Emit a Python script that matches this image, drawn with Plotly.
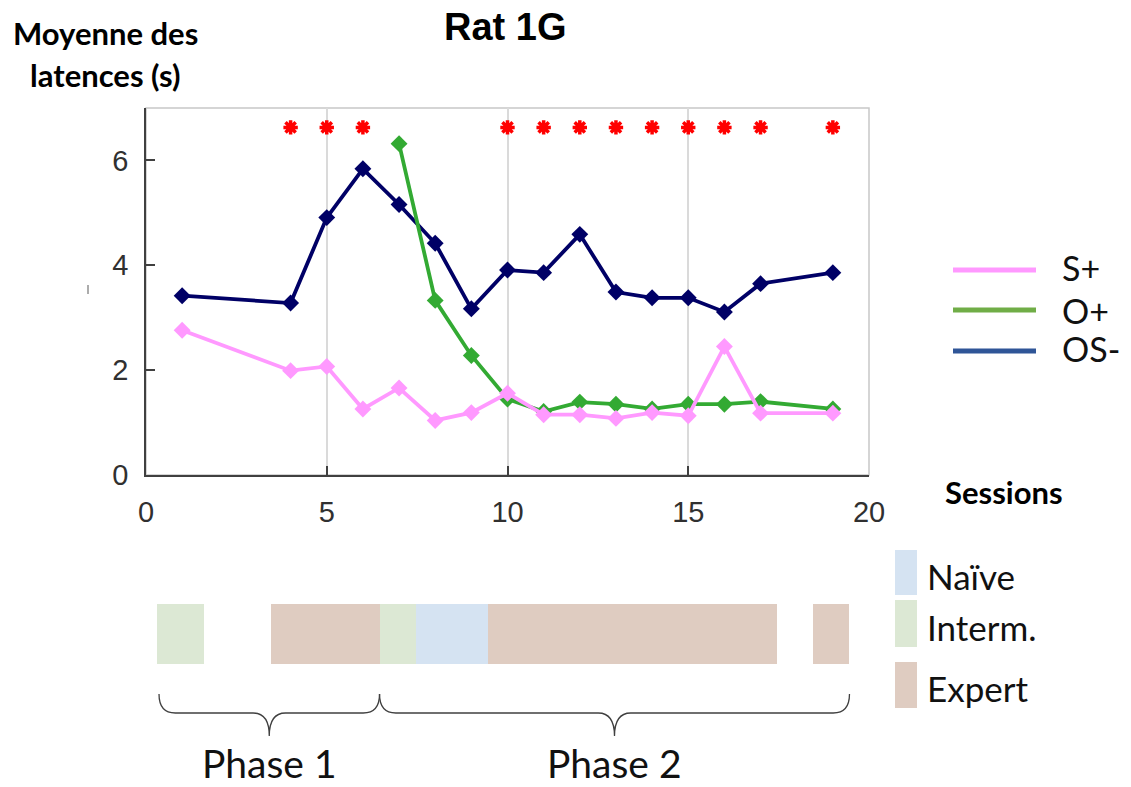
import plotly.graph_objects as go

# ---------------- data ----------------
sessions = [1, 4, 5, 6, 7, 8, 9, 10, 11, 12, 13, 14, 15, 16, 17, 19]
s_plus = [2.76, 1.99, 2.07, 1.26, 1.66, 1.04, 1.19, 1.56, 1.15, 1.15, 1.08, 1.19, 1.13, 2.45, 1.18, 1.18]
o_plus = [None, None, None, None, 6.32, 3.33, 2.28, 1.45, 1.21, 1.39, 1.35, 1.26, 1.35, 1.35, 1.40, 1.26]
os_minus = [3.42, 3.28, 4.91, 5.84, 5.16, 4.42, 3.17, 3.91, 3.86, 4.59, 3.49, 3.38, 3.38, 3.11, 3.65, 3.86]

star_sessions = [4, 5, 6, 10, 11, 12, 13, 14, 15, 16, 17, 19]
star_level = [6.63] * len(star_sessions)

stage_sessions = [1, 4, 5, 6, 7, 8, 9, 10, 11, 12, 13, 14, 15, 16, 17, 19]
stage_labels = ["Interm.", "Expert", "Expert", "Expert", "Interm.", "Naïve", "Naïve",
                "Expert", "Expert", "Expert", "Expert", "Expert", "Expert", "Expert", "Expert", "Expert"]
stage_width = [1.3] + [1] * 15

phases = ["Phase 1", "Phase 2"]
phase_start = [0.4, 6.5]
phase_end = [6.5, 19.5]

x_ticks = [0, 5, 10, 15, 20]
y_ticks = [0, 2, 4, 6]

stage_order = ["Naïve", "Interm.", "Expert"]
stage_colors = {"Naïve": "#D5E3F2", "Interm.": "#DCE8D4", "Expert": "#DFCCC1"}

legend_series = ["S+", "O+", "OS-"]
legend_colors = ["#FF99FF", "#70AD47", "#2F5597"]

# ---------------- geometry helpers ----------------
W, H = 1131, 787
def py(p):  # window pixel y -> paper
    return 1 - p / H
def px(p):
    return p / W

fig = go.Figure()

fig.add_trace(go.Scatter(x=sessions, y=os_minus, mode="lines+markers", name="OS-",
                         line=dict(color="#000066", width=3.8),
                         marker=dict(symbol="diamond", size=13, color="#000066")))
fig.add_trace(go.Scatter(x=sessions, y=o_plus, mode="lines+markers", name="O+",
                         line=dict(color="#33AA33", width=3.8),
                         marker=dict(symbol="diamond", size=13, color="#33AA33")))
fig.add_trace(go.Scatter(x=sessions, y=s_plus, mode="lines+markers", name="S+",
                         line=dict(color="#FF99FF", width=3.8),
                         marker=dict(symbol="diamond", size=13, color="#FF99FF")))
fig.add_trace(go.Scatter(x=star_sessions, y=star_level, mode="markers", name="*",
                         marker=dict(symbol="asterisk-open", size=12, color="#FF0000",
                                     line=dict(color="#FF0000", width=3.5))))

# stage bars
fig.add_trace(go.Bar(x=stage_sessions, y=[1] * len(stage_sessions), width=stage_width,
                     marker=dict(color=[stage_colors[s] for s in stage_labels], line=dict(width=0)),
                     xaxis="x2", yaxis="y2", showlegend=False, hoverinfo="skip"))

tickfont = dict(family="Liberation Sans, Arial", size=29, color="#303030")
fig.update_layout(
    width=W, height=H, margin=dict(l=0, r=0, t=0, b=0, autoexpand=False),
    paper_bgcolor="white", plot_bgcolor="white", showlegend=False,
    xaxis=dict(domain=[px(146), px(869)], range=[0, 20], tickvals=x_ticks,
               ticks="inside", ticklen=9, tickcolor="#404040", tickwidth=1.5,
               showline=True, linecolor="#404040", linewidth=1.5,
               showgrid=True, gridcolor="#DADADA", gridwidth=1.5,
               zeroline=False, tickfont=tickfont, anchor="y", automargin=False,
               ticklabelstandoff=10),
    yaxis=dict(domain=[py(475), py(108)], range=[0, 7], tickvals=y_ticks,
               ticks="inside", ticklen=9, tickcolor="#404040", tickwidth=1.5,
               showline=True, linecolor="#404040", linewidth=1.5,
               showgrid=False, zeroline=False, tickfont=tickfont, anchor="x",
               ticklabelstandoff=10, automargin=False),
    xaxis2=dict(domain=[px(146), px(869)], range=[0.04, 20.04], visible=False, anchor="y2",
                automargin=False),
    yaxis2=dict(domain=[py(664), py(604)], range=[0, 1], visible=False, anchor="x2",
                automargin=False),
    bargap=0,
)

shapes = []
# light top/right frame
shapes.append(dict(type="rect", xref="x domain", yref="y domain", x0=0, x1=1, y0=0, y1=1,
                   line=dict(color="#C8C8C8", width=1.5), layer="below"))
# tiny artifact mark
shapes.append(dict(type="line", xref="paper", yref="paper", x0=px(88), x1=px(88),
                   y0=py(285), y1=py(294), line=dict(color="#909090", width=1.5)))

# braces
yt, ym, yb = py(694), py(713), py(736)
r = 0.45
for name, a, b in zip(phases, phase_start, phase_end):
    m = (a + b) / 2
    path = (f"M {a},{yt} Q {a},{ym} {a + r},{ym} L {m - r},{ym} Q {m},{ym} {m},{yb} "
            f"Q {m},{ym} {m + r},{ym} L {b - r},{ym} Q {b},{ym} {b},{yt}")
    shapes.append(dict(type="path", xref="x2", yref="paper", path=path,
                       line=dict(color="#404040", width=1.3)))

annotations = []
for name, a, b in zip(phases, phase_start, phase_end):
    annotations.append(dict(xref="x2", yref="paper", x=(a + b) / 2, y=py(763), text=name,
                            showarrow=False, xanchor="center", yanchor="middle",
                            font=dict(family="Lato", size=39, color="#111111")))

# line legend
leg_y = [270, 310, 351]
leg_ty = [268, 310, 349]
for lab, col, yy, ty in zip(legend_series, legend_colors, leg_y, leg_ty):
    shapes.append(dict(type="line", xref="paper", yref="paper", x0=px(953), x1=px(1036),
                       y0=py(yy), y1=py(yy), line=dict(color=col, width=5)))
    annotations.append(dict(xref="paper", yref="paper", x=px(1060), y=py(ty), text=lab,
                            showarrow=False, xanchor="left", yanchor="middle",
                            font=dict(family="Lato", size=34, color="#111111")))

# stage legend
sq = {"Naïve": (550, 595), "Interm.": (600, 647), "Expert": (662, 708)}
for lab in stage_order:
    y0, y1 = sq[lab]
    shapes.append(dict(type="rect", xref="paper", yref="paper", x0=px(895), x1=px(917),
                       y0=py(y1), y1=py(y0), fillcolor=stage_colors[lab], line=dict(width=0)))
    annotations.append(dict(xref="paper", yref="paper", x=px(925), y=py((y0 + y1) / 2 + 3), text=lab,
                            showarrow=False, xanchor="left", yanchor="middle",
                            font=dict(family="Lato", size=35, color="#111111")))

# titles
annotations.append(dict(xref="paper", yref="paper", x=px(505), y=py(27), text="<b>Rat 1G</b>",
                        showarrow=False, xanchor="center", yanchor="middle",
                        font=dict(family="Liberation Sans, Arial", size=38, color="#000000")))
annotations.append(dict(xref="paper", yref="paper", x=px(105), y=py(33), text="<b>Moyenne des</b>",
                        showarrow=False, xanchor="center", yanchor="middle",
                        font=dict(family="Lato", size=31, color="#000000")))
annotations.append(dict(xref="paper", yref="paper", x=px(105), y=py(75), text="<b>latences (s)</b>",
                        showarrow=False, xanchor="center", yanchor="middle",
                        font=dict(family="Lato", size=31, color="#000000")))
annotations.append(dict(xref="paper", yref="paper", x=px(1004), y=py(492), text="<b>Sessions</b>",
                        showarrow=False, xanchor="center", yanchor="middle",
                        font=dict(family="Lato", size=31, color="#000000")))

fig.update_layout(shapes=shapes, annotations=annotations)
fig.write_html("out.html", config={"displayModeBar": False},
               post_script="document.body.style.margin='0px';")
